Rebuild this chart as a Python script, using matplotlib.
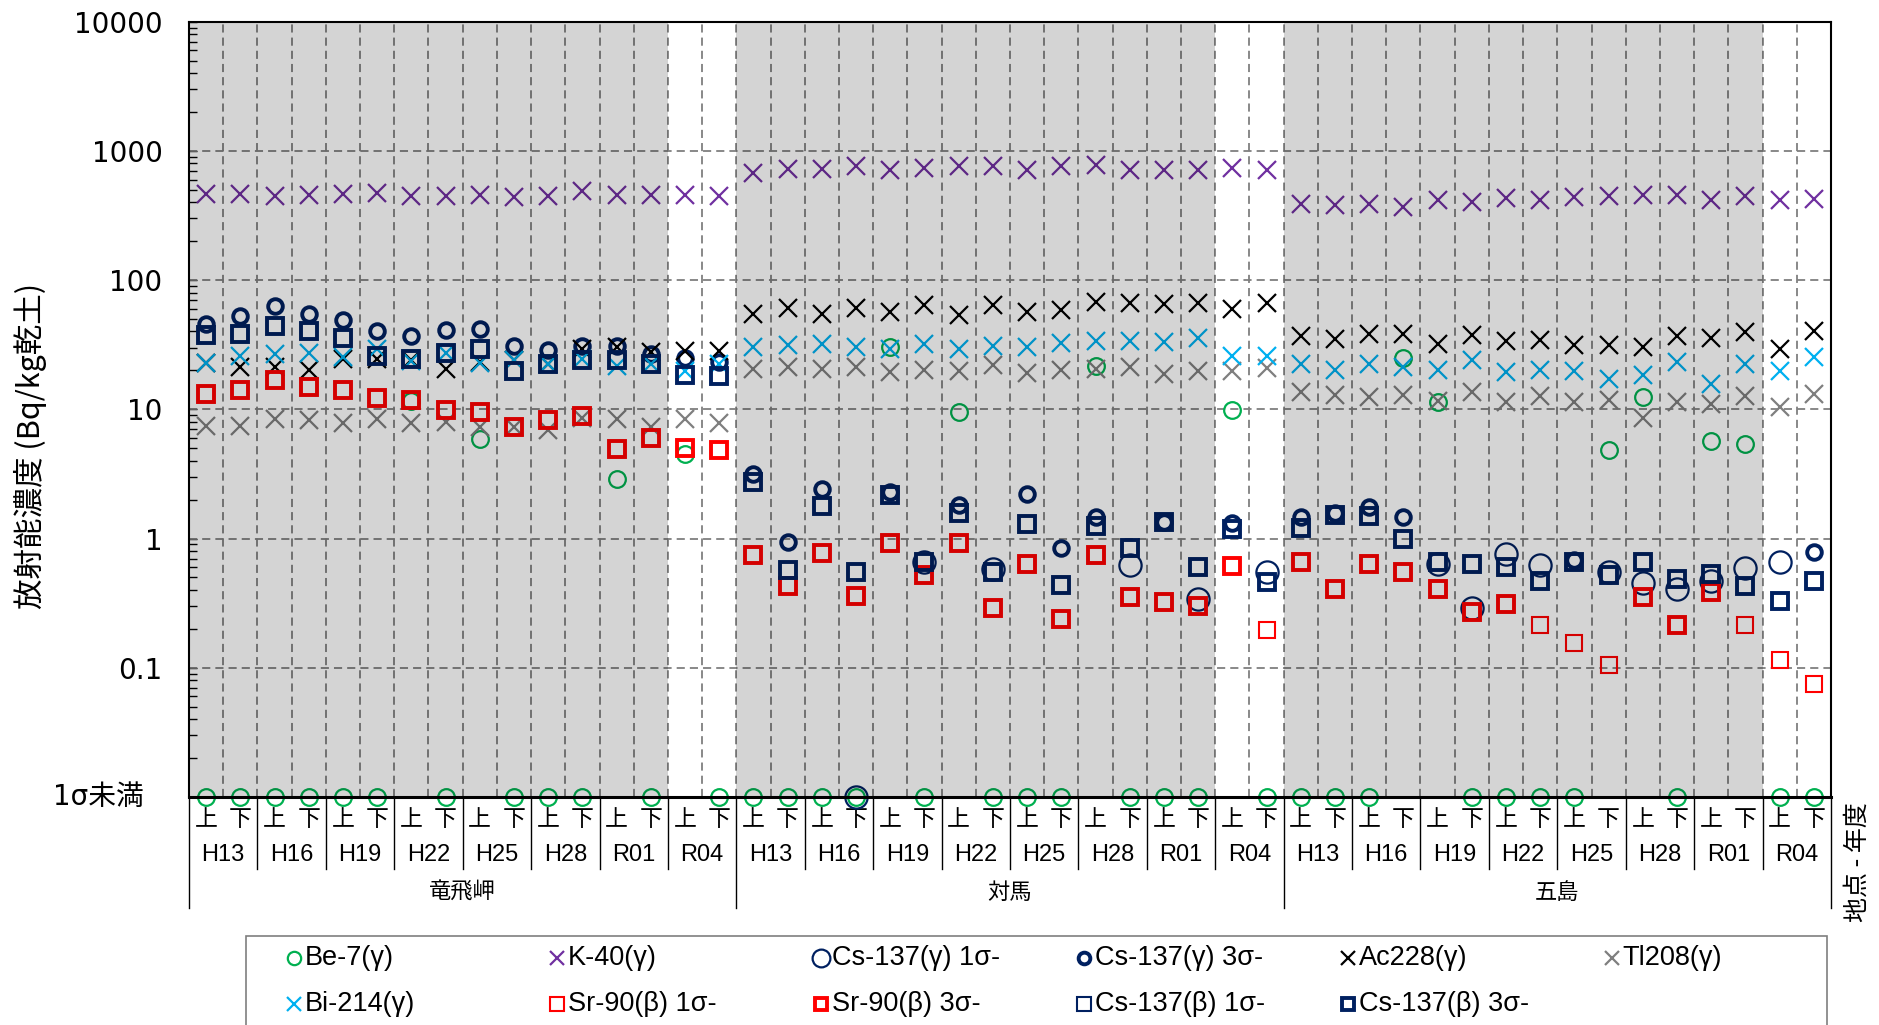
import numpy as np
import matplotlib
matplotlib.use("Agg")
import matplotlib.pyplot as plt
from matplotlib.lines import Line2D
from matplotlib.patches import Rectangle
from matplotlib.transforms import blended_transform_factory

plt.rcParams['font.family'] = ['Liberation Sans', 'Noto Sans CJK JP']

N = None
ND = 'ND'   # below 1 sigma -> drawn on the "1σ未満" line

sites = ['竜飛岬', '対馬', '五島']
years = ['H13', 'H16', 'H19', 'H22', 'H25', 'H28', 'R01', 'R04']
layers = ['上', '下']

be7 = [ND, ND, ND, ND, ND, ND, 11.5, ND, 5.9, ND, ND, ND, 2.9, ND, 4.5, ND,
       ND, ND, ND, ND, 30.3, ND, 9.5, ND, ND, ND, 21.5, ND, ND, ND, 9.9, ND,
       ND, ND, ND, 25.0, 11.3, ND, ND, ND, ND, 4.8, 12.4, ND, 5.7, 5.4, ND, ND]
k40 = [465, 465, 444, 456, 465, 470, 444, 444, 456, 440, 444, 493, 456, 456, 456, 444,
       676, 726, 726, 757, 705, 739, 757, 757, 713, 766, 783, 713, 713, 713, 739, 713,
       385, 378, 389, 367, 418, 401, 433, 413, 438, 444, 452, 452, 418, 444, 418, 426]
cs137g_1s = [N] * 16 + \
    [N, N, N, ND, N, 0.66, N, 0.58, N, N, N, 0.62, N, 0.34, N, 0.55,
     N, N, N, N, 0.64, 0.29, 0.76, 0.62, N, 0.55, 0.45, 0.41, 0.47, 0.59, 0.66, N]
cs137g_3s = [45.9, 52.4, 62.6, 54.3, 49.3, 40.3, 37.1, 41.3, 42.1, 30.7, 28.9, 30.7, 30.7, 26.9, 25.1, 23.2,
             3.16, 0.94, 2.40, N, 2.31, N, 1.82, N, 2.2, 0.85, 1.46, N, 1.35, N, 1.31, N,
             1.47, 1.58, 1.75, 1.48, N, N, N, N, 0.68, N, N, N, N, N, N, 0.78]
ac228 = [23.0, 21.2, 21.2, 20.0, 24.6, 24.6, 23.9, 20.6, 23.2, 23.9, 22.3, 29.5, 30.3, 27.8, 28.2, 28.2,
         55.0, 61.1, 54.3, 61.1, 56.6, 63.7, 53.3, 63.7, 56.6, 59.0, 67.6, 66.4, 65.6, 66.4, 60.0, 66.4,
         36.6, 35.2, 38.0, 38.5, 31.8, 37.3, 33.8, 34.2, 31.2, 31.2, 30.3, 36.6, 35.8, 39.6, 29.5, 40.4]
tl208 = [7.4, 7.4, 8.4, 8.2, 7.9, 8.4, 7.9, 8.0, 7.3, 7.3, 6.9, 8.5, 8.4, 7.3, 8.4, 7.9,
         20.6, 21.2, 20.6, 21.2, 19.4, 20.3, 19.8, 21.9, 19.1, 20.3, 20.6, 21.2, 18.9, 19.8, 19.8, 21.0,
         13.7, 12.9, 12.5, 12.9, 11.5, 13.7, 11.3, 12.7, 11.3, 11.9, 8.5, 11.3, 11.0, 12.7, 10.5, 13.2]
bi214 = [22.8, 25.7, 26.9, 27.3, 25.4, 29.5, 23.6, 27.3, 22.8, 23.9, 22.3, 24.6, 21.5, 22.5, 19.8, 22.5,
         30.3, 31.2, 31.8, 30.3, 29.5, 31.8, 29.5, 30.7, 30.3, 32.6, 33.8, 33.8, 33.2, 35.8, 25.7, 25.7,
         22.3, 20.3, 22.5, 21.2, 20.3, 23.9, 19.4, 20.0, 19.8, 17.3, 18.3, 23.2, 15.6, 22.5, 19.8, 25.4]
sr90_1s = [N] * 16 + [N] * 15 + [0.197] + \
    [N, N, N, N, N, N, N, 0.215, 0.155, 0.105, N, N, N, 0.215, 0.115, 0.075]
sr90_3s = [13.1, 14.1, 16.9, 15.0, 14.1, 12.2, 11.7, 9.9, 9.5, 7.3, 8.3, 8.8, 4.9, 6.0, 5.0, 4.8,
           0.75, 0.43, 0.77, 0.36, 0.93, 0.52, 0.92, 0.29, 0.63, 0.24, 0.74, 0.35, 0.32, 0.30, 0.61, N,
           0.66, 0.41, 0.64, 0.55, 0.41, 0.27, 0.31, N, N, N, 0.35, 0.216, 0.385, N, N, N]
cs137b_1s = [N] * 48
cs137b_3s = [37.3, 38.5, 43.9, 40.1, 35.8, 25.7, 24.6, 27.3, 29.5, 19.8, 22.3, 23.9, 23.9, 22.3, 18.3, 18.0,
             2.76, 0.57, 1.79, 0.55, 2.18, 0.66, 1.59, 0.55, 1.30, 0.44, 1.24, 0.84, 1.34, 0.60, 1.18, 0.46,
             1.20, 1.52, 1.50, 0.99, 0.66, 0.64, 0.60, 0.47, 0.66, 0.52, 0.66, 0.49, 0.53, 0.43, 0.33, 0.47]

YMIN, YMAX = 0.01, 10000
NAVY = '#002060'

series = [
    ('Be-7(γ)', be7, dict(marker='o', mec='#00b050', ms=12, mew=1.6)),
    ('K-40(γ)', k40, dict(marker='x', mec='#7030a0', ms=13, mew=1.6)),
    ('Cs-137(γ) 1σ-', cs137g_1s, dict(marker='o', mec=NAVY, ms=16, mew=1.6)),
    ('Cs-137(γ) 3σ-', cs137g_3s, dict(marker='o', mec=NAVY, ms=10.5, mew=2.8)),
    ('Ac228(γ)', ac228, dict(marker='x', mec='black', ms=13, mew=1.6)),
    ('Tl208(γ)', tl208, dict(marker='x', mec='#7f7f7f', ms=13, mew=1.6)),
    ('Bi-214(γ)', bi214, dict(marker='x', mec='#00b0f0', ms=13, mew=1.6)),
    ('Sr-90(β) 1σ-', sr90_1s, dict(marker='s', mec='#ff0000', ms=12, mew=1.5)),
    ('Sr-90(β) 3σ-', sr90_3s, dict(marker='s', mec='#ff0000', ms=11, mew=2.8)),
    ('Cs-137(β) 1σ-', cs137b_1s, dict(marker='s', mec=NAVY, ms=12, mew=1.5)),
    ('Cs-137(β) 3σ-', cs137b_3s, dict(marker='s', mec=NAVY, ms=11, mew=2.8)),
]


def to_y(vals):
    return np.array([YMIN if v == ND else (np.nan if v is None else v) for v in vals], dtype=float)


W, H = 1879, 1025
fig = plt.figure(figsize=(W / 100, H / 100), dpi=100)
ax = fig.add_axes([189 / W, 1 - 797 / H, (1831 - 189) / W, (797 - 21.6) / H])

nslot = len(sites) * len(years) * len(layers)
x = np.arange(nslot) + 0.5

for name, vals, st in series:
    ax.plot(x, to_y(vals), ls='none', mfc='none', zorder=5, clip_on=False, **st)

ax.set_yscale('log')
ax.set_ylim(YMIN, YMAX)
ax.set_xlim(0, nslot)

# grid
for xb in range(1, nslot):
    ax.axvline(xb, color='#7f7f7f', lw=1.3, ls=(0, (4.5, 2.8)), zorder=2)
for yv in [0.1, 1, 10, 100, 1000]:
    ax.axhline(yv, color='#7f7f7f', lw=1.3, ls=(0, (4.5, 2.8)), zorder=2)

# gray shading (semi-transparent, over the markers), R04 columns stay white
per_site = len(years) * len(layers)
for g in range(len(sites)):
    ax.axvspan(g * per_site, g * per_site + per_site - 2, color='black', alpha=0.17, lw=0, zorder=8)

# y axis
ax.set_yticks([0.01, 0.1, 1, 10, 100, 1000, 10000])
ax.set_yticklabels(['', '0.1', '1', '10', '100', '1000', '10000'], fontsize=20, family='DejaVu Sans')
ax.tick_params(axis='y', which='both', direction='in', length=6, width=1, pad=19)
ax.tick_params(axis='x', which='both', length=0, labelbottom=False)
ax.set_xticks([])
for s in ax.spines.values():
    s.set_linewidth(1.5)
    s.set_zorder(10)
ax.spines['bottom'].set_linewidth(2.2)
fig.text(144 / W, 1 - 797 / H, '1σ未満', ha='right', va='center', fontsize=20,
         family=['DejaVu Sans', 'Noto Sans CJK JP'])

fig.text(30 / W, 1 - 446 / H, '放射能濃度 (Bq/kg乾土)', rotation=90, ha='center', va='center',
         fontsize=22, family=['Noto Sans CJK JP'])

# category axis below the plot
ph = 797 - 21.6
tr = blended_transform_factory(ax.transData, ax.transAxes)
for i in range(nslot):
    ax.text(i + 0.5, -23 / ph, layers[i % 2], transform=tr, ha='center', va='center',
            fontsize=16.5, family=['Noto Sans CJK JP'])
for j in range(nslot // 2):
    ax.text(2 * j + 1, -58 / ph, years[j % len(years)], transform=tr, ha='center', va='center',
            fontsize=17)
for g, name in enumerate(sites):
    ax.text(g * per_site + per_site / 2, -95 / ph, name, transform=tr, ha='center', va='center',
            fontsize=16, family=['Noto Sans CJK JP'])
for xb in range(0, nslot + 1, 2):
    low = -111 / ph if xb % per_site == 0 else -72 / ph
    ax.plot([xb, xb], [0, low], transform=tr, color='black', lw=1, clip_on=False, zorder=1)
fig.text(1858 / W, 1 - 862 / H, '地点 - 年度', rotation=90, ha='center', va='center',
         fontsize=18, family=['Noto Sans CJK JP'])

# legend box
fig.add_artist(Rectangle((246 / W, 1 - 1030 / H), (1827 - 246) / W, 94 / H,
                         transform=fig.transFigure, fill=False, ec='#7f7f7f', lw=1.2))
for k, (name, vals, st) in enumerate(series):
    row, col = (0, k) if k < 6 else (1, k - 6)
    mx = 293.5 + 263.6 * col
    my = 958 if row == 0 else 1004
    lst = dict(st)
    lst['ms'] = st['ms'] * 0.8
    fig.add_artist(Line2D([mx / W], [1 - my / H], transform=fig.transFigure, ls='none',
                          mfc='none', **lst))
    fig.text((mx + 11) / W, 1 - my / H, name, ha='left', va='center', fontsize=19.5)

fig.savefig('out.png', dpi=100)
